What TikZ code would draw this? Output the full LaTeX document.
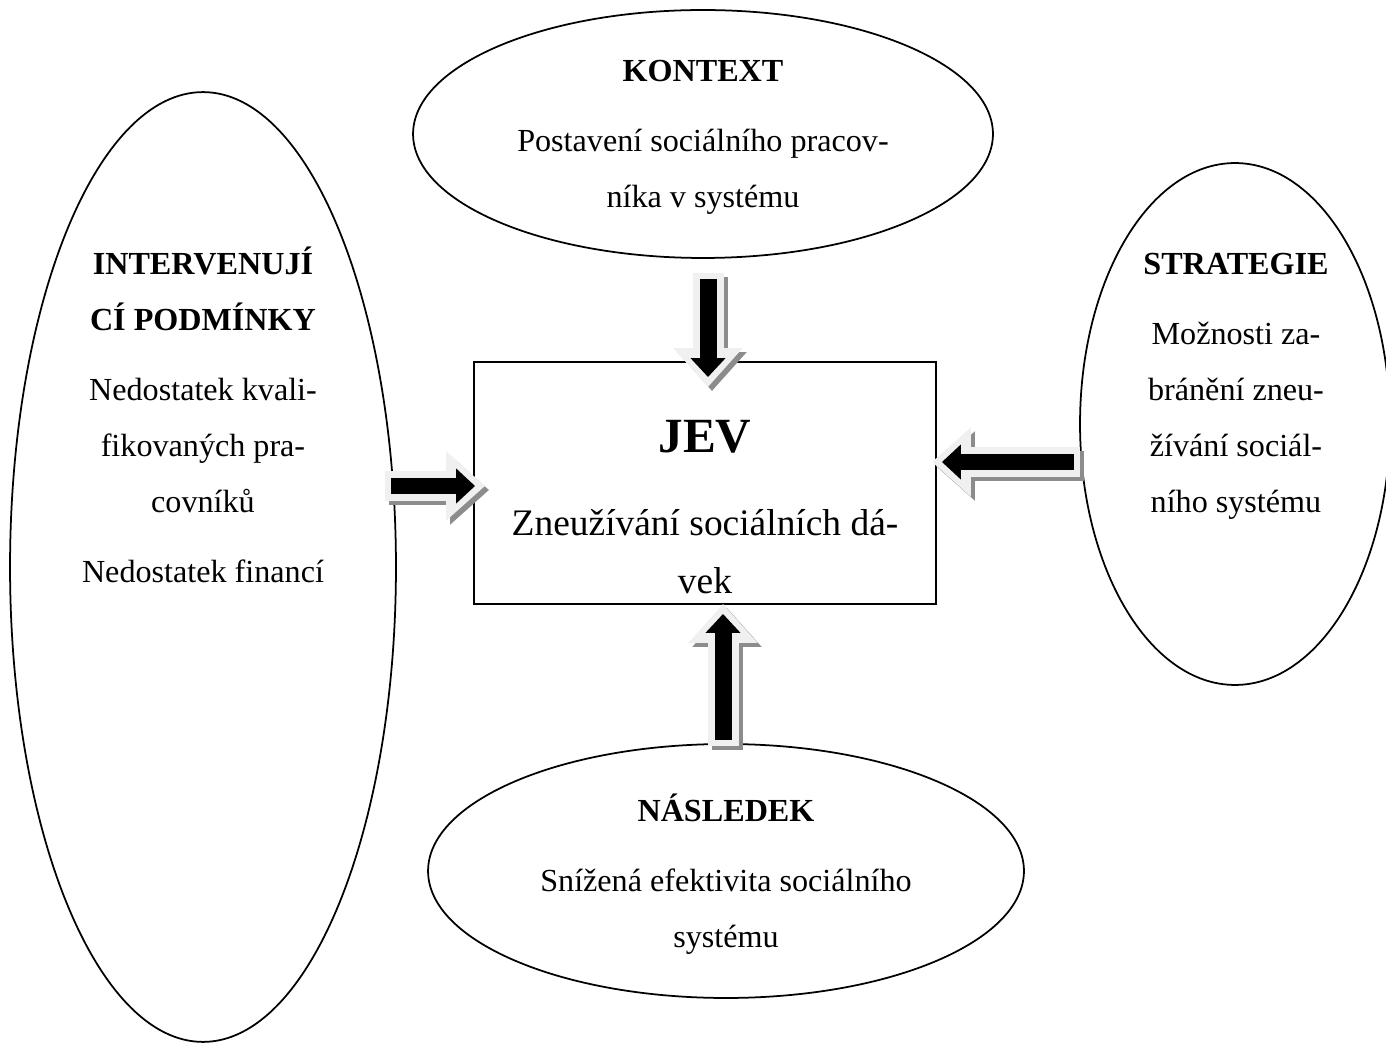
\documentclass[tikz,border=0pt]{standalone}
\usepackage{fontspec}
\setmainfont{Liberation Serif}
\usetikzlibrary{shapes.geometric,arrows.meta,calc}
\newcommand{\bodyfont}{\fontsize{18.3}{31.9}\selectfont}
\newcommand{\boxfont}{\fontsize{21.3}{33}\selectfont}
\newcommand{\jevfont}{\fontsize{28}{34}\selectfont\bfseries}
\tikzset{
  oval/.style={ellipse, draw, line width=1pt, outer sep=0pt},
  txt/.style={align=center, font=\bodyfont},
  arrshadow/.style={line width=0.62cm, draw=black!45, -{Triangle[width=1.34cm,length=0.78cm]}},
  arrrim/.style={line width=0.62cm, draw=black!6, -{Triangle[width=1.34cm,length=0.78cm]}},
  arrcore/.style={line width=0.34cm, draw=black, shorten <=0.12cm, shorten >=0.2cm, -{Triangle[width=0.68cm,length=0.38cm]}}
}
\newcommand{\blockarrow}[2]{%
  \draw[arrshadow] ([shift={(4,4)}]#1) -- ([shift={(4,4)}]#2);
  \draw[arrrim] (#1) -- (#2);
  \draw[arrcore] (#1) -- (#2);}

\begin{document}
\begin{tikzpicture}[x=0.02cm,y=-0.02cm]
  \useasboundingbox (0,0) rectangle (1386,1043);
  % shapes
  \node[oval, minimum width=11.6cm, minimum height=4.96cm] (kontext) at (703,134) {};
  \node[oval, minimum width=7.72cm, minimum height=19cm] (interv) at (203,567) {};
  \node[oval, minimum width=6.2cm, minimum height=10.44cm] (strat) at (1235,424) {};
  \node[oval, minimum width=11.92cm, minimum height=5.08cm] (nasl) at (726,871) {};
  \node[draw, line width=1pt, outer sep=0pt, minimum width=9.24cm, minimum height=4.84cm] (jev) at (705,483) {};
  % arrow ends
  \coordinate (kA) at ($(kontext.south)+(5,15)$);
  \coordinate (kB) at ($(kA |- jev.north)+(0,25)$);
  \coordinate (iA) at ($(interv.east |- jev.west)+(-11,3)$);
  \coordinate (iB) at ($(iA -| jev.west)+(11,0)$);
  \coordinate (sA) at ($(strat.west)+(0,38)$);
  \coordinate (sB) at ($(sA -| jev.east)+(-4,0)$);
  \coordinate (nA) at ($(nasl.north)+(-3,2)$);
  \coordinate (nB) at (nA |- jev.south);
  \blockarrow{kA}{kB}
  \blockarrow{iA}{iB}
  \blockarrow{sA}{sB}
  \blockarrow{nA}{nB}
  % texts
  \node[txt] (kontextTxt) at (703,137) {\textbf{KONTEXT}\\[8pt]Postavení sociálního pracov-\\níka v systému};
  \node[txt] (intervTxt) at (203,415) {\textbf{INTERVENUJÍ}\\\textbf{CÍ PODMÍNKY}\\[8pt]Nedostatek kvali-\\fikovaných pra-\\covníků\\[8pt]Nedostatek financí};
  \node[txt] (stratTxt) at (1236,386) {\textbf{STRATEGIE}\\[8pt]Možnosti za-\\bránění zneu-\\žívání sociál-\\ního systému};
  \node[txt] (naslTxt) at (726,874) {\textbf{NÁSLEDEK}\\[8pt]Snížená efektivita sociálního\\systému};
  \node[align=center, font=\boxfont] (jevTxt) at (705,507) {{\jevfont JEV}\\[14pt]Zneužívání sociálních dá-\\vek};
\end{tikzpicture}
\end{document}
